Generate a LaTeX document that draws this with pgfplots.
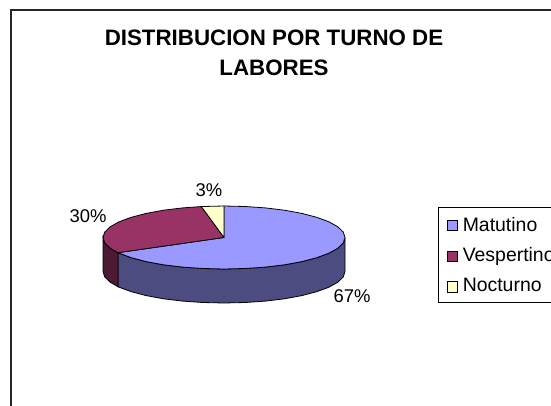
\documentclass[border=0pt]{standalone}
\usepackage{pgfplots}
\pgfplotsset{compat=1.18}
\usepackage{fontspec}
\setmainfont{Liberation Sans}
\definecolor{mat}{HTML}{9999FF}
\definecolor{ves}{HTML}{993366}
\definecolor{noc}{HTML}{FFFFCC}
\definecolor{matd}{HTML}{4C4C80}
\definecolor{vesd}{HTML}{4D1A33}
\begin{document}
\begin{tikzpicture}
\useasboundingbox (0,0) rectangle (551bp,406bp);
\clip (0,0) rectangle (551bp,406bp);
\begin{axis}[
  at={(0,0)}, anchor=south west,
  scale only axis, width=551bp, height=406bp,
  xmin=0, xmax=551, ymin=0, ymax=406, y dir=reverse,
  hide axis, clip=false,
  legend cell align=left,
  legend image code/.code={\draw[#1,draw=black,line width=0.8bp] (0bp,-6bp) rectangle (10.5bp,4.5bp); \path (14.5bp,0bp);},
  legend style={at={(axis cs:438,207)}, anchor=north west, draw=black, line width=1bp,
    inner xsep=8bp, inner ysep=8.5bp, row sep=13.2bp,
    font=\fontsize{19.5}{21}\selectfont,
    nodes={text width=100bp, inner xsep=1bp, inner ysep=1bp}},
]
% chart frame
\addplot[forget plot, black!85, line width=2bp] coordinates {(11,420) (11,10) (570,10)};
% side walls
\addplot[forget plot, fill=matd, draw=black, line width=0.8bp] coordinates {
 (345,237.5) (343.2,243.0) (337.7,248.3) (328.8,253.25) (316.7,257.7) (301.8,261.6) (284.5,264.8) (265.4,267.1) (245.0,268.5) (224,269) (203.0,268.5) (182.6,267.1) (163.5,264.8) (146.2,261.6) (131.3,257.7) (119.2,253.25) (118.0,252.7)
 (118.0,286.7) (119.2,287.25) (131.3,291.7) (146.2,295.6) (163.5,298.8) (182.6,301.1) (203.0,302.5) (224,303) (245.0,302.5) (265.4,301.1) (284.5,298.8) (301.8,295.6) (316.7,291.7) (328.8,287.25) (337.7,282.3) (343.2,277.0) (345,271.5) (345,237.5)};
\addplot[forget plot, fill=vesd, draw=black, line width=0.8bp] coordinates {
 (118.0,252.7) (110.3,248.3) (104.8,243.0) (103,237.5) (103,271.5) (104.8,277.0) (110.3,282.3) (118.0,286.7) (118.0,252.7)};
% top slices
\addplot[fill=mat, draw=black, line width=0.8bp] coordinates {
 (224,237.5) (224,206) (245.0,206.5) (265.4,207.9) (284.5,210.2) (301.8,213.4) (316.7,217.3) (328.8,221.75) (337.7,226.7) (343.2,232.0) (345,237.5) (343.2,243.0) (337.7,248.3) (328.8,253.25) (316.7,257.7) (301.8,261.6) (284.5,264.8) (265.4,267.1) (245.0,268.5) (224,269) (203.0,268.5) (182.6,267.1) (163.5,264.8) (146.2,261.6) (131.3,257.7) (119.2,253.25) (118.0,252.7) (224,237.5)};
\addlegendentry{Matutino}
\addplot[fill=ves, draw=black, line width=0.8bp] coordinates {
 (224,237.5) (118.0,252.7) (110.3,248.3) (104.8,243.0) (103,237.5) (104.8,232.0) (110.3,226.7) (119.2,221.75) (131.3,217.3) (146.2,213.4) (163.5,210.2) (182.6,207.9) (201.3,206.56) (224,237.5)};
\addlegendentry{Vespertino}
\addplot[fill=noc, draw=black, line width=0.8bp] coordinates {
 (224,237.5) (201.3,206.56) (203,206.5) (224,206) (224,237.5)};
\addlegendentry{Nocturno}
\node[font=\bfseries\fontsize{22.4}{24}\selectfont] at (axis cs:274,38) {DISTRIBUCION POR TURNO DE};
\node[font=\bfseries\fontsize{22.4}{24}\selectfont] at (axis cs:274,68) {LABORES};
\node[font=\fontsize{18.5}{20}\selectfont] at (axis cs:209,190) {3\%};
\node[font=\fontsize{18.5}{20}\selectfont] at (axis cs:88,216) {30\%};
\node[font=\fontsize{18.5}{20}\selectfont] at (axis cs:352,296) {67\%};
\end{axis}
\end{tikzpicture}
\end{document}
